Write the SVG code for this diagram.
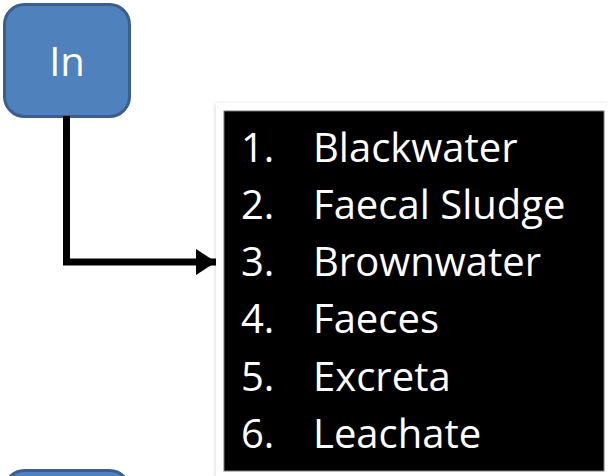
<svg xmlns="http://www.w3.org/2000/svg" width="608" height="476" viewBox="0 0 608 476">
<style>
.node{fill:#4F81BD;stroke:#3A5F8C;stroke-width:3}
.lbl{font-family:"Open Sans","Liberation Sans",sans-serif;font-size:40px;fill:#fff}
.conn{fill:none;stroke:#000;stroke-width:7}
</style>
<defs>
<marker id="ah" markerUnits="userSpaceOnUse" viewBox="0 0 20 26" markerWidth="20" markerHeight="26" refX="20" refY="13" orient="auto">
<path d="M0,0 L20,13 L0,26 Z" fill="#000"/>
</marker>
<filter id="sh" x="-10%" y="-10%" width="120%" height="120%">
<feGaussianBlur in="SourceAlpha" stdDeviation="2"/>
<feOffset dx="0" dy="1"/>
<feComponentTransfer><feFuncA type="linear" slope="0.2"/></feComponentTransfer>
<feMerge><feMergeNode/><feMergeNode in="SourceGraphic"/></feMerge>
</filter>
</defs>
<rect width="608" height="476" fill="#fff"/>
<g id="node-in">
<rect class="node" x="4.5" y="4.5" width="125" height="112" rx="20"/>
<text class="lbl" x="67" y="76" text-anchor="middle">In</text>
</g>
<g id="node-bottom">
<rect class="node" x="4.5" y="470.5" width="125" height="112" rx="20"/>
</g>
<g id="connectors">
<path class="conn" d="M66.5,116 V262 H216" marker-end="url(#ah)"/>
</g>
<g id="node-list">
<rect x="216" y="103" width="392" height="376" fill="#fff" filter="url(#sh)"/>
<rect x="224" y="111" width="380" height="360" fill="#000" stroke="#777" stroke-width="1"/>
<g class="lbl">
<text x="241" y="162">1.</text><text x="313" y="162">Blackwater</text>
<text x="241" y="219">2.</text><text x="313" y="219">Faecal Sludge</text>
<text x="241" y="276">3.</text><text x="313" y="276">Brownwater</text>
<text x="241" y="333">4.</text><text x="313" y="333">Faeces</text>
<text x="241" y="391">5.</text><text x="313" y="391">Excreta</text>
<text x="241" y="448">6.</text><text x="313" y="448">Leachate</text>
</g>
</g>
</svg>
